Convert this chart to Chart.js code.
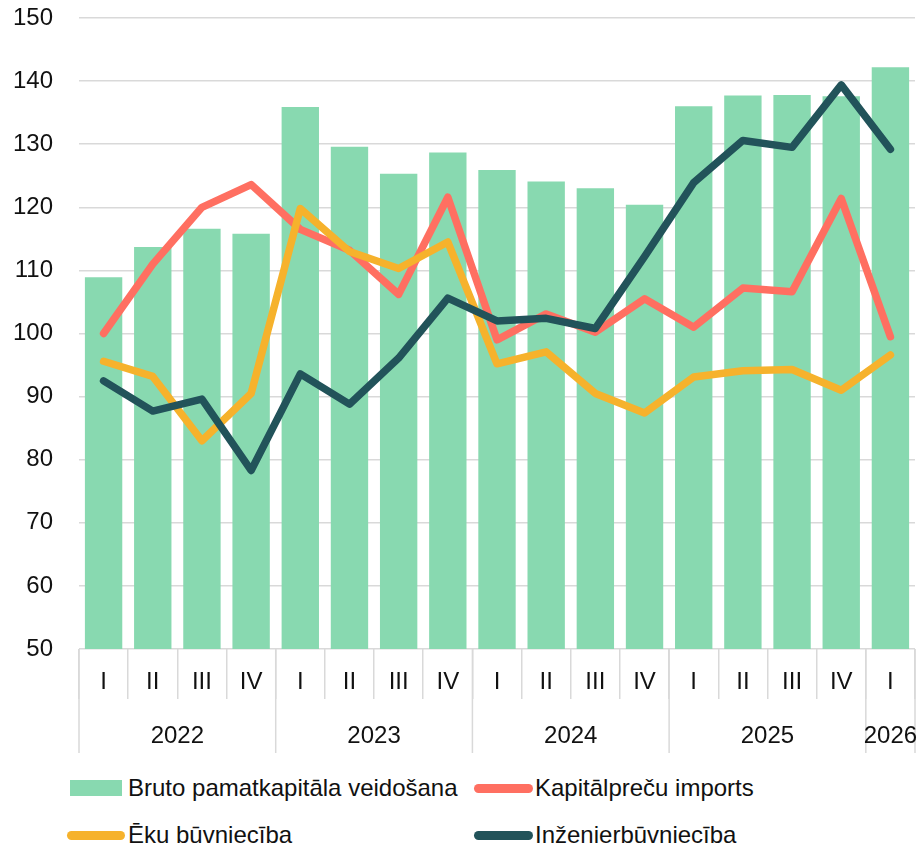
<!DOCTYPE html>
<html>
<head>
<meta charset="utf-8">
<script src="https://cdn.jsdelivr.net/npm/chart.js@4"></script>
<style>
  body { margin: 0; background: #fff; font-family: "Liberation Sans", Arial, sans-serif; }
  #wrap { position: relative; width: 918px; height: 760px; }
  .lg { position: absolute; font-size: 24px; line-height: 24px; color: #111; white-space: nowrap; }
  .mk { position: absolute; }
</style>
</head>
<body>
<div id="wrap"><canvas id="chart"></canvas></div>

<!-- legend -->
<div class="mk" style="left:70px; top:780px; width:52px; height:16px; background:#88d9b0"></div>
<div class="lg" style="left:128px; top:776px">Bruto pamatkapitāla veidošana</div>
<div class="mk" style="left:474px; top:784px; width:59px; height:9px; border-radius:5px; background:#ff6f61"></div>
<div class="lg" style="left:535px; top:776px">Kapitālpreču imports</div>
<div class="mk" style="left:67px; top:831px; width:58px; height:9px; border-radius:5px; background:#f6b22c"></div>
<div class="lg" style="left:128px; top:823px">Ēku būvniecība</div>
<div class="mk" style="left:474px; top:831px; width:59px; height:9px; border-radius:5px; background:#22535a"></div>
<div class="lg" style="left:535px; top:823px">Inženierbūvniecība</div>

<script>
const quarters = ["I", "II", "III", "IV", "I", "II", "III", "IV", "I", "II", "III", "IV", "I", "II", "III", "IV", "I"]
const years = ["2022", "2023", "2024", "2025", "2026"]
const yearSpans = [4, 4, 4, 4, 1]

const grossCapital = [108.9, 113.7, 116.6, 115.8, 135.9, 129.6, 125.3, 128.7, 125.9, 124.1, 123.0, 120.4, 136.0, 137.7, 137.8, 137.6, 142.2]
const capitalImports = [100.0, 111.0, 120.0, 123.6, 116.5, 113.2, 106.2, 121.6, 99.0, 103.1, 100.2, 105.5, 101.0, 107.2, 106.6, 121.4, 99.5]
const buildings = [95.6, 93.2, 83.0, 90.5, 119.8, 113.0, 110.3, 114.5, 95.2, 97.1, 90.5, 87.4, 93.1, 94.1, 94.3, 91.0, 96.6]
const civilEng = [92.5, 87.7, 89.6, 78.3, 93.6, 88.8, 96.1, 105.6, 102.0, 102.4, 100.8, 112.2, 123.9, 130.6, 129.5, 139.4, 129.2]

const gridColor = "#d9d9d9"
const font = { family: "'Liberation Sans', Arial, sans-serif", size: 24 }

// year row under the quarter labels
const yearAxis = {
    id: "yearAxis",
    afterDraw(chart) {
        const ctx = chart.ctx
        const x = chart.scales.x
        const top = chart.chartArea.bottom
        ctx.save()
        ctx.strokeStyle = gridColor
        ctx.lineWidth = 1.5
        let start = 0
        const edges = [-0.5]
        yearSpans.forEach(n => { start += n; edges.push(start - 0.5) })
        edges.forEach(e => {
            const px = x.getPixelForValue(e)
            ctx.beginPath()
            ctx.moveTo(px, top)
            ctx.lineTo(px, top + 104)
            ctx.stroke()
        })
        ctx.fillStyle = "#111"
        ctx.font = font.size + "px " + font.family
        ctx.textAlign = "center"
        ctx.textBaseline = "middle"
        start = 0
        years.forEach((y, i) => {
            const mid = start + (yearSpans[i] - 1) / 2
            start += yearSpans[i]
            ctx.fillText(y, x.getPixelForValue(mid), top + 87)
        })
        ctx.restore()
    }
}

const lineStyle = {
    type: "line",
    borderWidth: 7.5,
    pointRadius: 0,
    borderCapStyle: "round",
    borderJoinStyle: "round"
}

const data = {
    labels: quarters,
    datasets: [
        { ...lineStyle, label: "Inženierbūvniecība", data: civilEng, borderColor: "#22535a", order: 1 },
        { ...lineStyle, label: "Ēku būvniecība", data: buildings, borderColor: "#f6b22c", order: 2 },
        { ...lineStyle, label: "Kapitālpreču imports", data: capitalImports, borderColor: "#ff6f61", order: 3 },
        {
            type: "bar",
            label: "Bruto pamatkapitāla veidošana",
            data: grossCapital,
            backgroundColor: "#88d9b0",
            barPercentage: 0.76,
            categoryPercentage: 1,
            order: 4
        }
    ]
}

const config = {
    type: "bar",
    data: data,
    options: {
        responsive: true,
        maintainAspectRatio: false,
        animation: false,
        layout: {
            padding: { top: 18, right: 3, left: 0, bottom: 0 }
        },
        scales: {
            x: {
                afterFit: s => { s.height = 111 },
                grid: {
                    offset: true,
                    drawOnChartArea: false,
                    tickLength: 50,
                    color: gridColor,
                    lineWidth: 1.5
                },
                border: { display: false },
                ticks: {
                    font: font,
                    color: "#111",
                    padding: -31,
                    maxRotation: 0,
                    autoSkip: false
                }
            },
            y: {
                min: 50,
                max: 150,
                afterFit: s => { s.width = 79; s.paddingTop = 0; s.paddingBottom = 0 },
                grid: {
                    color: gridColor,
                    lineWidth: 1.5,
                    drawTicks: false
                },
                border: { display: false },
                ticks: {
                    stepSize: 10,
                    font: font,
                    color: "#111",
                    padding: 26
                }
            }
        },
        plugins: {
            legend: { display: false },
            tooltip: { enabled: false }
        }
    },
    plugins: [yearAxis]
}

const chart = new Chart(document.getElementById("chart"), config)
</script>
</body>
</html>
